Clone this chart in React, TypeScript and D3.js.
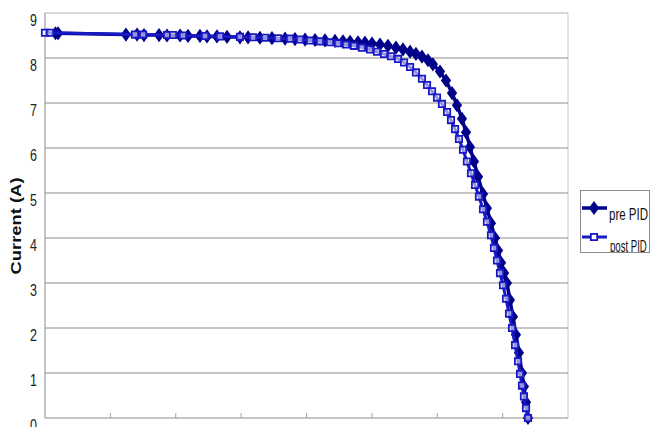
import * as d3 from "d3";
import { useMemo } from "react";

// I-V readings, voltage (V) vs current (A)
const PRE_V = [
  0.8, 1.0, 6.19, 7.04, 7.57, 8.72, 9.33, 10.33, 10.94, 11.85, 12.39, 13.15, 13.92,
  14.91, 15.53, 16.44, 17.36, 18.36, 19.12, 19.89, 20.65, 21.41, 22.18, 22.79, 23.33,
  23.94, 24.47, 25.01, 25.62, 26.23, 26.84, 27.38, 27.92, 28.37, 28.83, 29.29, 29.67,
  30.21, 30.67, 31.13, 31.51, 31.89, 32.2, 32.5, 32.81, 33.12, 33.5, 33.8, 34.11,
  34.42, 34.65, 34.88, 35.11, 35.33, 35.56, 35.79, 36.02, 36.25, 36.48, 36.63, 36.79,
  36.94,
];
const PRE_I = [
  8.55, 8.55, 8.52, 8.52, 8.51, 8.51, 8.5, 8.5, 8.49, 8.49, 8.48, 8.48, 8.47, 8.46,
  8.46, 8.45, 8.44, 8.43, 8.42, 8.41, 8.4, 8.39, 8.38, 8.37, 8.36, 8.35, 8.34, 8.32,
  8.3, 8.27, 8.23, 8.19, 8.14, 8.09, 8.03, 7.95, 7.86, 7.7, 7.5, 7.22, 6.95, 6.65,
  6.35, 6.02, 5.7, 5.36, 4.98, 4.66, 4.33, 4.0, 3.72, 3.45, 3.22, 3.0, 2.62, 2.25,
  1.85, 1.45, 1.0, 0.7, 0.35, 0.0,
];

const POST_V = [
  0, 0.38, 6.88, 7.5, 9.33, 9.79, 10.55, 12.24, 13.38, 14.91, 15.91, 16.83, 17.82,
  18.74, 19.5, 20.27, 21.03, 21.8, 22.41, 23.02, 23.63, 24.24, 24.86, 25.39, 25.93,
  26.46, 27.0, 27.46, 27.92, 28.37, 28.83, 29.22, 29.6, 29.98, 30.36, 30.75, 31.05,
  31.36, 31.66, 31.97, 32.27, 32.58, 32.89, 33.19, 33.5, 33.8, 34.11, 34.34, 34.57,
  34.8, 35.03, 35.26, 35.49, 35.72, 35.95, 36.18, 36.33, 36.48, 36.63, 36.79, 36.94,
];
const POST_I = [
  8.56, 8.56, 8.52, 8.52, 8.51, 8.51, 8.5, 8.49, 8.48, 8.47, 8.46, 8.45, 8.44, 8.43,
  8.41, 8.39, 8.37, 8.35, 8.33, 8.3, 8.27, 8.23, 8.19, 8.14, 8.09, 8.04, 7.98, 7.9,
  7.8, 7.68, 7.54, 7.4, 7.26, 7.12, 6.98, 6.8, 6.62, 6.42, 6.2, 5.96, 5.7, 5.44, 5.18,
  4.92, 4.64, 4.36, 4.06, 3.78, 3.5, 3.22, 2.95, 2.65, 2.32, 2.0, 1.62, 1.26, 0.98,
  0.72, 0.48, 0.22, 0.0,
];

const Y_TICKS = [0, 1, 2, 3, 4, 5, 6, 7, 8, 9];
const X_TICKS = [5, 10, 15, 20, 25, 30, 35];
const SERIES_NAMES = ["pre PID", "post PID"];

const W = 651;
const H = 427;
const PLOT = { left: 45, right: 568, top: 13, bottom: 418 };
const FONT = "'Liberation Sans', Arial, sans-serif";

const PRE_COLOUR = "#000088";
const POST_COLOUR = "#1818c4";

export default function App() {
  const x = useMemo(
    () => d3.scaleLinear().domain([0, 40]).range([PLOT.left, PLOT.right]),
    [],
  );
  const y = useMemo(
    () => d3.scaleLinear().domain([0, 9]).range([PLOT.bottom, PLOT.top]),
    [],
  );

  const pre = PRE_V.map((v, i) => [v, PRE_I[i]] as [number, number]);
  const post = POST_V.map((v, i) => [v, POST_I[i]] as [number, number]);

  const line = d3
    .line<[number, number]>()
    .x((d) => x(d[0]))
    .y((d) => y(d[1]));

  const diamond = d3.symbol().type(d3.symbolDiamond).size(58)()!;
  const square = d3.symbol().type(d3.symbolSquare).size(40)()!;

  return (
    <svg
      width={W}
      height={H}
      style={{ position: "absolute", left: 0, top: 0, background: "#fff" }}
    >
      {/* plot frame */}
      <line x1={PLOT.right} x2={PLOT.right} y1={PLOT.top} y2={PLOT.bottom} stroke="#c8c8c8" />
      {Y_TICKS.filter((t) => t > 0).map((t) => (
        <line
          key={t}
          x1={PLOT.left}
          x2={PLOT.right}
          y1={y(t)}
          y2={y(t)}
          stroke={t === 9 ? "#b0b0b0" : "#8c8c8c"}
          strokeWidth={1}
        />
      ))}
      <line x1={PLOT.left} x2={PLOT.left} y1={PLOT.top} y2={PLOT.bottom} stroke="#8c8c8c" />
      <line x1={PLOT.left} x2={PLOT.right} y1={PLOT.bottom} y2={PLOT.bottom} stroke="#8c8c8c" />
      {X_TICKS.map((t) => (
        <line
          key={t}
          x1={x(t)}
          x2={x(t)}
          y1={PLOT.bottom}
          y2={PLOT.bottom - 5}
          stroke="#a0a0a0"
        />
      ))}

      {Y_TICKS.map((t) => (
        <text
          key={t}
          transform={`translate(37, ${y(t) + 13}) scale(0.78, 1)`}
          textAnchor="end"
          style={{ font: `16px ${FONT}`, fill: "#222" }}
        >
          {t}
        </text>
      ))}

      <text
        transform={`translate(21, 226) rotate(-90)`}
        textAnchor="middle"
        textLength={97}
        lengthAdjust="spacingAndGlyphs"
        style={{ font: `bold 14px ${FONT}`, fill: "#111" }}
      >
        Current (A)
      </text>

      {/* pre PID */}
      <path d={line(pre)!} fill="none" stroke={PRE_COLOUR} strokeWidth={3.5} />
      {pre.map((d, i) => (
        <path
          key={`pre-${i}`}
          d={diamond}
          transform={`translate(${x(d[0])}, ${y(d[1])}) scale(1.25, 1)`}
          fill={PRE_COLOUR}
        />
      ))}

      {/* post PID */}
      <path d={line(post)!} fill="none" stroke={POST_COLOUR} strokeWidth={3} />
      {post.map((d, i) => (
        <path
          key={`post-${i}`}
          d={square}
          transform={`translate(${x(d[0])}, ${y(d[1])})`}
          fill="#fff"
          fillOpacity={0.55}
          stroke={POST_COLOUR}
          strokeWidth={1.8}
        />
      ))}

      {/* legend */}
      <rect x={580.5} y={190.5} width={69} height={62} fill="#fff" stroke="#8c8c8c" />
      <line x1={582} x2={607} y1={208} y2={208} stroke={PRE_COLOUR} strokeWidth={3.5} />
      <path d={diamond} transform="translate(594, 208) scale(1.25, 1)" fill={PRE_COLOUR} />
      <text
        transform="translate(609, 220) scale(0.72, 1)"
        style={{ font: `16px ${FONT}`, fill: "#111" }}
      >
        {SERIES_NAMES[0]}
      </text>
      <line x1={582} x2={607} y1={237} y2={237} stroke={POST_COLOUR} strokeWidth={3} />
      <path
        d={square}
        transform="translate(594, 237)"
        fill="#fff"
        stroke={POST_COLOUR}
        strokeWidth={1.8}
      />
      <svg x={580} y={190} width={70} height={62} overflow="hidden">
        <text
          transform="translate(30, 62) scale(0.6, 1)"
          style={{ font: `16px ${FONT}`, fill: "#111" }}
        >
          {SERIES_NAMES[1]}
        </text>
      </svg>
    </svg>
  );
}
